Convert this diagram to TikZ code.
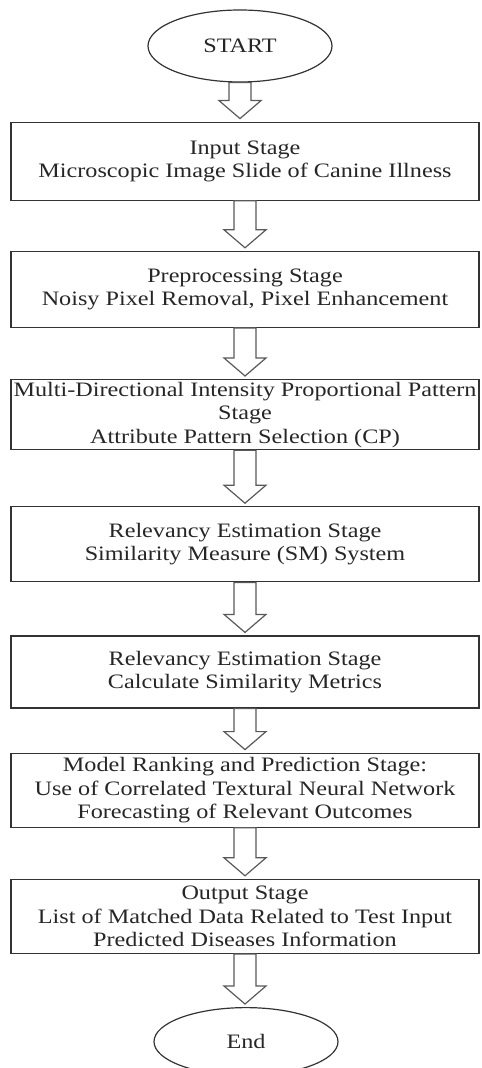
\documentclass[tikz,border=0pt]{standalone}
\usepackage{fontspec}
\setmainfont[FakeStretch=1.18]{Liberation Serif}
\usetikzlibrary{positioning,shapes.geometric,calc}

\begin{document}
\begin{tikzpicture}[
		every node/.append style={
			draw=black!80,
			line width=.6pt,
			inner sep=0pt,
			align=center,
			text=black!85,
			font=\fontsize{10.25}{11.75}\selectfont,
		},
		terminal/.style={ellipse,minimum width=92pt},
		stage/.style={rectangle,minimum width=234pt},
		blockarrow/.style={
			draw=black!65,
			fill=white,
			line width=.6pt,
			to path={
				($(\tikztostart.south)+(-5.5pt,0)$)
				-- ($(\tikztostart.south |- \tikztotarget.north)+(-5.5pt,10.5pt)$)
				-- ++(-5pt,0)
				-- ($(\tikztostart.south |- \tikztotarget.north)+(0,1.5pt)$)
				-- ($(\tikztostart.south |- \tikztotarget.north)+(10.5pt,10.5pt)$)
				-- ++(-5pt,0)
				-- ($(\tikztostart.south)+(5.5pt,0)$) -- cycle
			},
		},
	]
	\useasboundingbox (-120pt,23pt) rectangle (120.5pt,-511pt);
	\node[terminal,minimum height=36pt] (start) at (0,0) {START};
	% the stages, top to bottom
	\node[stage,minimum height=39pt,xshift=2.5pt] (input) [below=19.5pt of start] {Input Stage\\
	Microscopic Image Slide of Canine Illness};
	\node[stage,minimum height=38pt] (prep) [below=25pt of input] {Preprocessing Stage\\
	Noisy Pixel Removal, Pixel Enhancement};
	\node[stage,minimum height=35pt] (pattern) [below=25.5pt of prep] {Multi-Directional Intensity Proportional Pattern\\
	Stage\\
	Attribute Pattern Selection (CP)};
	\node[stage,minimum height=37.5pt] (measure) [below=28pt of pattern] {Relevancy Estimation Stage\\
	Similarity Measure (SM) System};
	\node[stage,minimum height=36pt] (metrics) [below=26.5pt of measure] {Relevancy Estimation Stage\\
	Calculate Similarity Metrics};
	\node[stage,minimum height=37pt] (ranking) [below=22pt of metrics] {Model Ranking and Prediction Stage:\\
	Use of Correlated Textural Neural Network\\
	Forecasting of Relevant Outcomes};
	\node[stage,minimum height=37pt] (output) [below=25.5pt of ranking] {Output Stage\\
	List of Matched Data Related to Test Input\\
	Predicted Diseases Information};
	\node[terminal,minimum height=34pt,xshift=.5pt] (stop) [below=26.5pt of output] {End};
	% draw the block arrows
	\draw[blockarrow] (start) to (input);
	\draw[blockarrow] (input) to (prep);
	\draw[blockarrow] (prep) to (pattern);
	\draw[blockarrow] (pattern) to (measure);
	\draw[blockarrow] (measure) to (metrics);
	\draw[blockarrow] (metrics) to (ranking);
	\draw[blockarrow] (ranking) to (output);
	\draw[blockarrow] (output) to (stop);
\end{tikzpicture}
\end{document}
